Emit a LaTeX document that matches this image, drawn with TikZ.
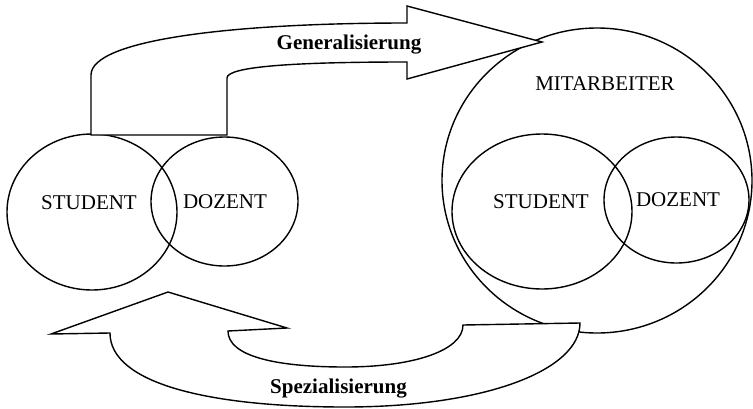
\documentclass[tikz,border=0pt]{standalone}
\usepackage{fontspec}
\setmainfont{Liberation Serif}
\usetikzlibrary{shapes.geometric}
\begin{document}
\begin{tikzpicture}[x=1pt,y=-1pt,
  ell/.style={draw, ellipse, line width=1.4pt, inner sep=0pt, outer sep=0pt},
  lbl/.style={anchor=base, inner sep=0pt, font=\fontsize{21}{25}\selectfont},
  blbl/.style={anchor=base, inner sep=0pt, font=\fontsize{21}{25}\selectfont\bfseries},
  bigarrow/.style={draw, fill=white, line width=1.4pt, line join=miter}]
\useasboundingbox (0,0) rectangle (753,408);
% left set
\node[ell, minimum width=170pt, minimum height=156pt] (ls) at (92,212) {};
\node[ell, minimum width=147pt, minimum height=129pt] (ld) at (224.5,201.5) {};
\node[lbl] (lst) at (89,209) {STUDENT};
\node[lbl] (ldt) at (225,208) {DOZENT};
% right set
\node[ell, minimum width=310pt, minimum height=305pt] (ma) at (597,180.5) {};
\node[ell, minimum width=180pt, minimum height=155pt] (rs) at (542,211.5) {};
\node[ell, minimum width=145pt, minimum height=126pt] (rd) at (676.5,200) {};
\node[lbl] (mat) at (605,90) {MITARBEITER};
\node[lbl] (rst) at (541,208) {STUDENT};
\node[lbl] (rdt) at (678,206) {DOZENT};
% generalisation arrow
\draw[bigarrow] (91,135) -- (91,75)
  .. controls (91,40) and (230,23) .. (407,23)
  -- (407,6) -- (542,42) -- (407,79) -- (407,62)
  .. controls (300,62) and (227,66) .. (227,78)
  -- (227,135) -- cycle;
\node[blbl] (gen) at (349,49) {Generalisierung};
% specialisation arrow
\draw[bigarrow] (168,292) -- (287,328) -- (228,331)
  .. controls (228,356) and (275,367) .. (345,367)
  .. controls (415,367) and (463,350) .. (463,325)
  -- (580,323)
  .. controls (580,370) and (486,407) .. (345,407)
  .. controls (204,407) and (110,382) .. (110,333)
  -- (51,334) -- cycle;
\node[blbl] (spe) at (338.5,393) {Spezialisierung};
\end{tikzpicture}
\end{document}
